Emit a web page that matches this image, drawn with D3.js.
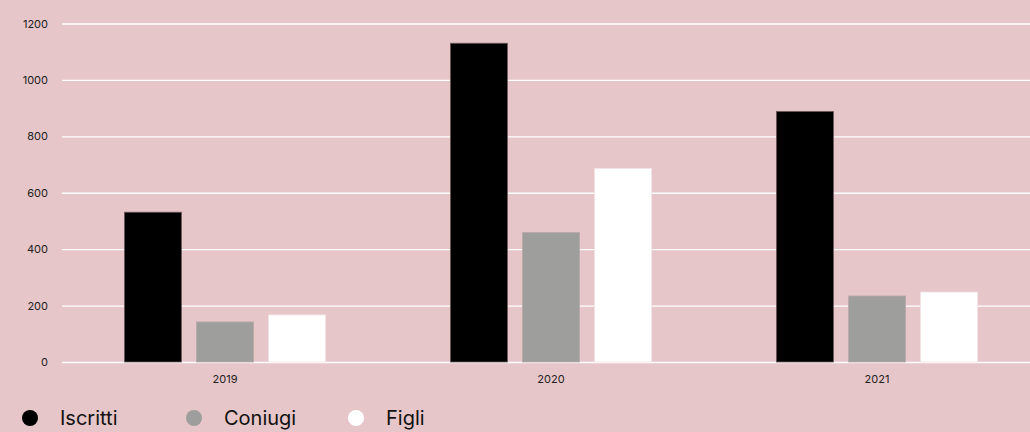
<!DOCTYPE html>
<html>
<head>
<meta charset="utf-8">
<script src="https://cdn.jsdelivr.net/npm/d3@7"></script>
<style>
  html, body { margin: 0; padding: 0; background: #e6c6c8; }
  svg { display: block; font-family: Inter, "Noto Sans", sans-serif; }
</style>
</head>
<body>
<div id="chart"></div>
<script>
const years = ["2019", "2020", "2021"];
const seriesNames = ["Iscritti", "Coniugi", "Figli"];
const seriesColors = ["#000000", "#9e9f9c", "#ffffff"];
const iscritti = [531, 1130, 888];
const coniugi = [142, 459, 234];
const figli = [167, 686, 248];
const yTicks = [0, 200, 400, 600, 800, 1000, 1200];

const width = 1030, height = 432;
const plotLeft = 62, plotRight = 1040, plotTop = 23.5, plotBottom = 362;

const svg = d3.select("#chart").append("svg")
    .attr("width", width)
    .attr("height", height);

svg.append("rect").attr("width", width).attr("height", height).attr("fill", "#e6c6c8");

const rows = years.map((y, i) => ({ year: y, values: [iscritti[i], coniugi[i], figli[i]] }));

const x0 = d3.scaleBand().domain(years).range([plotLeft, plotRight])
    .paddingInner(0.383).paddingOuter(0.1915);
const x1 = d3.scaleBand().domain(seriesNames).range([0, x0.bandwidth()]).paddingInner(0.21);
const y = d3.scaleLinear().domain([0, 1200]).range([plotBottom, plotTop]);

// griglia orizzontale + etichette asse y
const yAxis = svg.append("g")
    .attr("transform", `translate(${plotLeft},0)`)
    .call(d3.axisLeft(y).tickValues(yTicks).tickSize(-(width - plotLeft)).tickPadding(14).tickFormat(d3.format("d")));
yAxis.attr("font-family", null).attr("font-size", null);
yAxis.select(".domain").remove();
yAxis.selectAll(".tick line").attr("stroke", "#ffffff").attr("stroke-width", 1.3);
yAxis.selectAll(".tick text").attr("fill", "#222").style("font-size", "11px");

// barre
const groups = svg.selectAll(".grp").data(rows).enter().append("g")
    .attr("transform", d => `translate(${x0(d.year)},0)`);

groups.selectAll("rect")
    .data(d => d.values.map((v, i) => ({ key: seriesNames[i], value: v, color: seriesColors[i] })))
    .enter().append("rect")
    .attr("x", d => x1(d.key))
    .attr("y", d => y(d.value))
    .attr("width", x1.bandwidth())
    .attr("height", d => y(0) - y(d.value))
    .attr("fill", d => d.color)
    .attr("stroke", d => d.color === "#000000" ? "#6b5558" : (d.color === "#ffffff" ? "#f3e3e4" : "#b8a8a9"))
    .attr("stroke-width", 0.8);

// etichette asse x
const xAxis = svg.append("g")
    .attr("transform", `translate(0,${plotBottom})`)
    .call(d3.axisBottom(x0).tickSize(0).tickPadding(13));
xAxis.attr("font-family", null).attr("font-size", null);
xAxis.select(".domain").remove();
xAxis.selectAll(".tick text").attr("fill", "#222").style("font-size", "11px");

// legenda
const legendX = [30, 194, 356];
const legend = svg.selectAll(".leg").data(seriesNames).enter().append("g")
    .attr("transform", (d, i) => `translate(${legendX[i]},418)`);
legend.append("circle").attr("r", 8).attr("fill", (d, i) => seriesColors[i]);
legend.append("text")
    .attr("x", 30)
    .attr("dy", "0.36em")
    .attr("fill", "#111")
    .style("font-size", "20px")
    .text(d => d);
</script>
</body>
</html>
